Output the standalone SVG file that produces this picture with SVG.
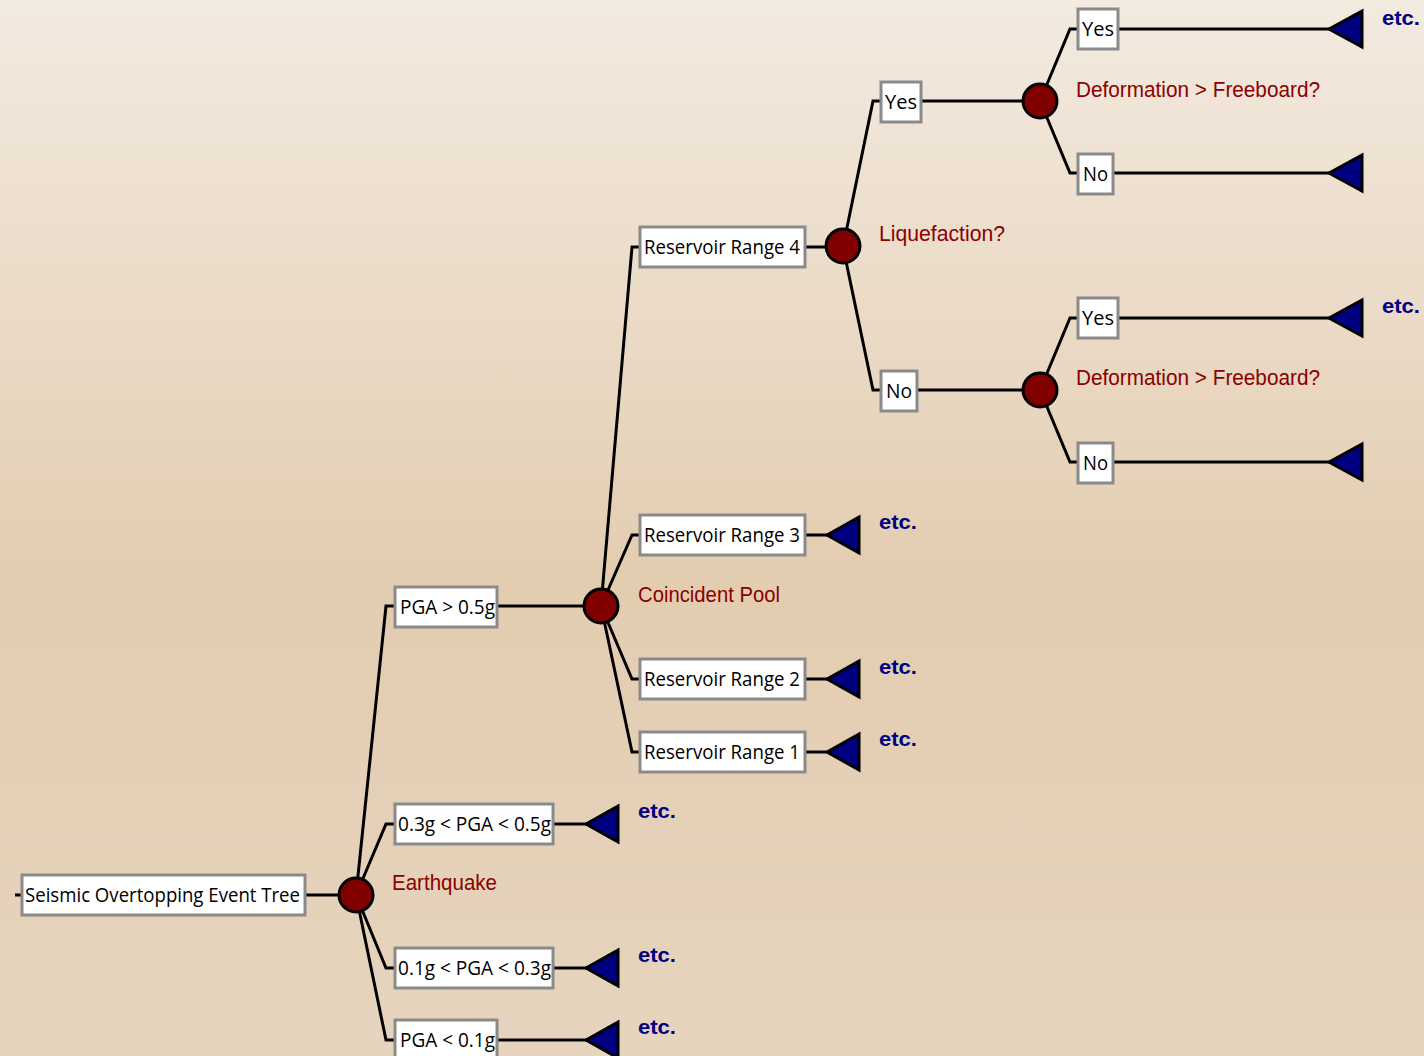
<svg xmlns="http://www.w3.org/2000/svg" width="1424" height="1056" viewBox="0 0 1424 1056">
<defs>
<linearGradient id="bg" x1="0" y1="0" x2="0" y2="1">
<stop offset="0" stop-color="#F3EAE0"/>
<stop offset="0.55" stop-color="#E3CDB1"/>
<stop offset="1" stop-color="#E6D4BE"/>
</linearGradient>
<style>
.ln{fill:none;stroke:#000;stroke-width:3}
.box{fill:#fff;stroke:#8a8a8a;stroke-width:3}
.bt{font-family:"Open Sans","Liberation Sans",sans-serif;font-size:20px;fill:#000}
.ch{fill:#800000;stroke:#000;stroke-width:3}
.cl{font-family:"Liberation Sans",Arial,sans-serif;font-size:22px;fill:#8B0000}
.tri{fill:#000080;stroke:#000;stroke-width:3;stroke-linejoin:miter}
.etc{font-family:"Liberation Sans",Arial,sans-serif;font-size:21px;font-weight:bold;fill:#000080}
</style>
</defs>
<rect width="1424" height="1056" fill="url(#bg)"/>

<g id="connectors">
<path class="ln" d="M15 895 H22 M305 895 H356"/>
<path class="ln" d="M356 895 L386 606 H395 M356 895 L386 824 H395 M356 895 L386 968 H395 M356 895 L386 1040 H395"/>
<path class="ln" d="M553 824 H590 M553 968 H590 M497 1040 H590"/>
<path class="ln" d="M497 606 H601"/>
<path class="ln" d="M601 606 L632 247 H640 M601 606 L632 535 H640 M601 606 L632 679 H640 M601 606 L632 752 H640"/>
<path class="ln" d="M805 535 H832 M805 679 H832 M805 752 H832"/>
<path class="ln" d="M805 247 H843"/>
<path class="ln" d="M843 247 L873 101 H881 M843 247 L873 390 H881"/>
<path class="ln" d="M921 101 H1040 M917 390 H1040"/>
<path class="ln" d="M1040 101 L1070 29 H1078 M1040 101 L1070 173 H1078 M1040 390 L1070 318 H1078 M1040 390 L1070 462 H1078"/>
<path class="ln" d="M1118 29 H1332 M1113 173 H1332 M1118 318 H1332 M1113 462 H1332"/>
</g>

<g id="root">
<rect class="box" x="22" y="875" width="283" height="40"/>
<text class="bt" x="25" y="902" textLength="275" lengthAdjust="spacingAndGlyphs">Seismic Overtopping Event Tree</text>
</g>
<g id="earthquake">
<circle class="ch" cx="356" cy="895" r="17"/>
<text class="cl" x="392" y="890" textLength="105" lengthAdjust="spacingAndGlyphs">Earthquake</text>
</g>

<g id="pga-gt-05">
<rect class="box" x="395" y="587" width="102" height="40"/>
<text class="bt" x="400" y="614" textLength="95" lengthAdjust="spacingAndGlyphs">PGA &gt; 0.5g</text>
</g>
<g id="pga-03-05">
<rect class="box" x="395" y="804" width="158" height="40"/>
<text class="bt" x="398" y="831" textLength="153" lengthAdjust="spacingAndGlyphs">0.3g &lt; PGA &lt; 0.5g</text>
</g>
<g id="pga-01-03">
<rect class="box" x="395" y="948" width="158" height="40"/>
<text class="bt" x="398" y="975" textLength="153" lengthAdjust="spacingAndGlyphs">0.1g &lt; PGA &lt; 0.3g</text>
</g>
<g id="pga-lt-01">
<rect class="box" x="395" y="1020" width="102" height="40"/>
<text class="bt" x="400" y="1047" textLength="95" lengthAdjust="spacingAndGlyphs">PGA &lt; 0.1g</text>
</g>

<g id="end-03-05"><polygon class="tri" points="586,824 618,806 618,842"/><text class="etc" x="638" y="818" textLength="38" lengthAdjust="spacingAndGlyphs">etc.</text></g>
<g id="end-01-03"><polygon class="tri" points="586,968 618,950 618,986"/><text class="etc" x="638" y="962" textLength="38" lengthAdjust="spacingAndGlyphs">etc.</text></g>
<g id="end-lt-01"><polygon class="tri" points="586,1040 618,1022 618,1058"/><text class="etc" x="638" y="1034" textLength="38" lengthAdjust="spacingAndGlyphs">etc.</text></g>

<g id="coincident-pool">
<circle class="ch" cx="601" cy="606" r="17"/>
<text class="cl" x="638" y="602" textLength="142" lengthAdjust="spacingAndGlyphs">Coincident Pool</text>
</g>

<g id="rr4">
<rect class="box" x="640" y="227" width="165" height="40"/>
<text class="bt" x="644" y="254" textLength="156" lengthAdjust="spacingAndGlyphs">Reservoir Range 4</text>
</g>
<g id="rr3">
<rect class="box" x="640" y="515" width="165" height="40"/>
<text class="bt" x="644" y="542" textLength="156" lengthAdjust="spacingAndGlyphs">Reservoir Range 3</text>
</g>
<g id="rr2">
<rect class="box" x="640" y="659" width="165" height="40"/>
<text class="bt" x="644" y="686" textLength="156" lengthAdjust="spacingAndGlyphs">Reservoir Range 2</text>
</g>
<g id="rr1">
<rect class="box" x="640" y="732" width="165" height="40"/>
<text class="bt" x="644" y="759" textLength="156" lengthAdjust="spacingAndGlyphs">Reservoir Range 1</text>
</g>

<g id="end-rr3"><polygon class="tri" points="827,535 859,517 859,553"/><text class="etc" x="879" y="529" textLength="38" lengthAdjust="spacingAndGlyphs">etc.</text></g>
<g id="end-rr2"><polygon class="tri" points="827,679 859,661 859,697"/><text class="etc" x="879" y="674" textLength="38" lengthAdjust="spacingAndGlyphs">etc.</text></g>
<g id="end-rr1"><polygon class="tri" points="827,752 859,734 859,770"/><text class="etc" x="879" y="746" textLength="38" lengthAdjust="spacingAndGlyphs">etc.</text></g>

<g id="liquefaction">
<circle class="ch" cx="843" cy="246" r="17"/>
<text class="cl" x="879" y="241" textLength="126" lengthAdjust="spacingAndGlyphs">Liquefaction?</text>
</g>
<g id="liq-yes">
<rect class="box" x="881" y="82" width="40" height="40"/>
<text class="bt" x="885" y="109" textLength="32" lengthAdjust="spacingAndGlyphs">Yes</text>
</g>
<g id="liq-no">
<rect class="box" x="881" y="371" width="36" height="40"/>
<text class="bt" x="886" y="398" textLength="26" lengthAdjust="spacingAndGlyphs">No</text>
</g>

<g id="deform-1">
<circle class="ch" cx="1040" cy="101" r="17"/>
<text class="cl" x="1076" y="97" textLength="244" lengthAdjust="spacingAndGlyphs">Deformation &gt; Freeboard?</text>
</g>
<g id="deform-1-yes">
<rect class="box" x="1078" y="9" width="40" height="40"/>
<text class="bt" x="1082" y="36" textLength="32" lengthAdjust="spacingAndGlyphs">Yes</text>
</g>
<g id="deform-1-no">
<rect class="box" x="1078" y="154" width="35" height="40"/>
<text class="bt" x="1083" y="181" textLength="25" lengthAdjust="spacingAndGlyphs">No</text>
</g>
<g id="end-d1-yes"><polygon class="tri" points="1329,29 1362,11 1362,47"/><text class="etc" x="1382" y="25" textLength="38" lengthAdjust="spacingAndGlyphs">etc.</text></g>
<g id="end-d1-no"><polygon class="tri" points="1329,173 1362,155 1362,191"/></g>

<g id="deform-2">
<circle class="ch" cx="1040" cy="390" r="17"/>
<text class="cl" x="1076" y="385" textLength="244" lengthAdjust="spacingAndGlyphs">Deformation &gt; Freeboard?</text>
</g>
<g id="deform-2-yes">
<rect class="box" x="1078" y="298" width="40" height="40"/>
<text class="bt" x="1082" y="325" textLength="32" lengthAdjust="spacingAndGlyphs">Yes</text>
</g>
<g id="deform-2-no">
<rect class="box" x="1078" y="443" width="35" height="40"/>
<text class="bt" x="1083" y="470" textLength="25" lengthAdjust="spacingAndGlyphs">No</text>
</g>
<g id="end-d2-yes"><polygon class="tri" points="1329,318 1362,300 1362,336"/><text class="etc" x="1382" y="313" textLength="38" lengthAdjust="spacingAndGlyphs">etc.</text></g>
<g id="end-d2-no"><polygon class="tri" points="1329,462 1362,444 1362,480"/></g>
</svg>
